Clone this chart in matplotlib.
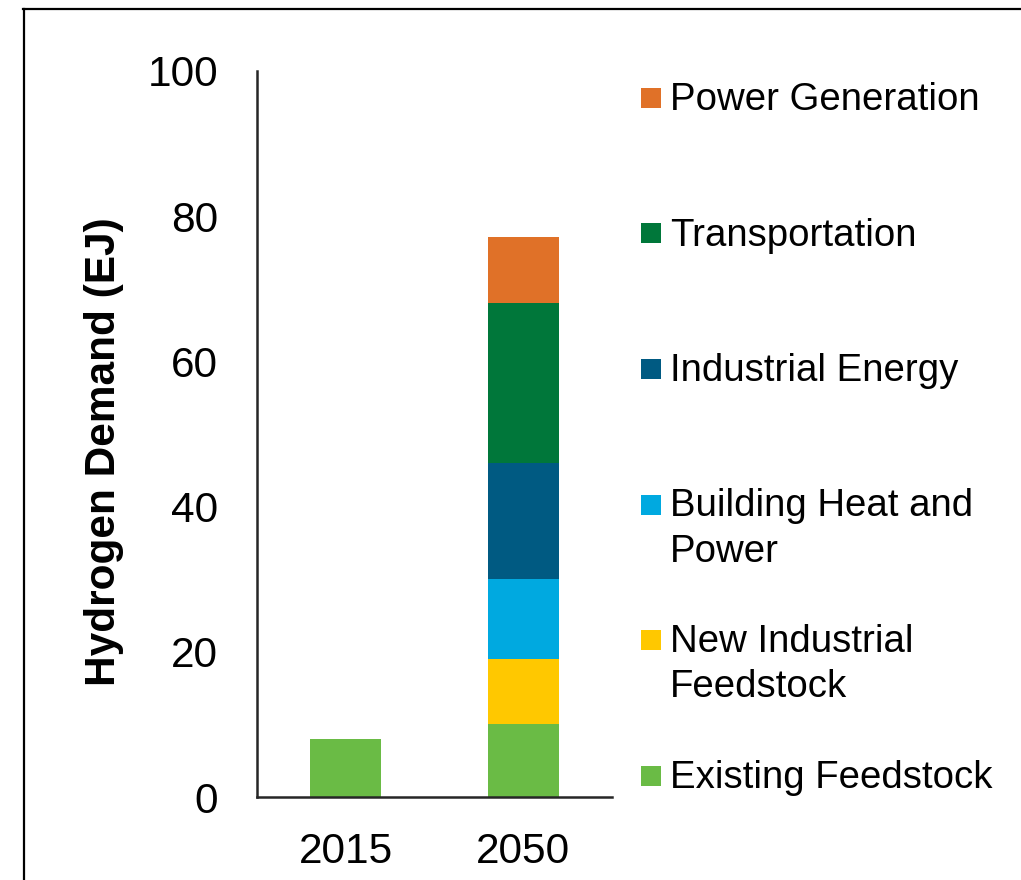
import numpy as np
import matplotlib
matplotlib.use("Agg")
import matplotlib.pyplot as plt
from matplotlib.lines import Line2D
from matplotlib.patches import Rectangle

plt.rcParams["font.family"] = ["Liberation Sans", "DejaVu Sans"]

# Datos (EJ)
years = ["2015", "2050"]
series_names = ["Existing Feedstock", "New Industrial Feedstock",
                "Building Heat and Power", "Industrial Energy",
                "Transportation", "Power Generation"]
legend_labels = ["Existing Feedstock", "New Industrial\nFeedstock",
                 "Building Heat and\nPower", "Industrial Energy",
                 "Transportation", "Power Generation"]
existing_feedstock = [8, 10]
new_industrial_feedstock = [0, 9]
building_heat_power = [0, 11]
industrial_energy = [0, 16]
transportation = [0, 22]
power_generation = [0, 9.2]
colors = ["#6ABB45", "#FFC800", "#00A9E0", "#005A82", "#00773A", "#E07128"]

W, H = 1021, 880
fig = plt.figure(figsize=(W / 100, H / 100), dpi=100)


def fx(px):
    return px / W


def fy(py):
    return 1 - py / H


ax = fig.add_axes([fx(257), fy(797), fx(612) - fx(257), fy(71) - fy(797)])

values = [existing_feedstock, new_industrial_feedstock, building_heat_power,
          industrial_energy, transportation, power_generation]
x = np.arange(len(years))
bottom = np.zeros(len(years))
for vals, col in zip(values, colors):
    ax.bar(x, vals, width=0.4, bottom=bottom, color=col)
    bottom += np.array(vals)

ax.set_xlim(-0.5, 1.5)
ax.set_ylim(0, 100)
ax.set_yticks([0, 20, 40, 60, 80, 100])
ax.set_xticks(x)
ax.set_xticklabels(years)
ax.tick_params(axis="both", length=0, labelsize=30.5, colors="black")
ax.tick_params(axis="y", pad=28)
ax.tick_params(axis="x", pad=25)
for s in ["top", "right"]:
    ax.spines[s].set_visible(False)
for s in ["left", "bottom"]:
    ax.spines[s].set_color("#262626")
    ax.spines[s].set_linewidth(1.8)

fig.text(fx(104), fy(452), "Hydrogen Demand (EJ)", rotation=90,
         fontsize=30.5, fontweight="bold", ha="center", va="center")

# Leyenda dibujada a mano (orden inverso al apilado)
for i, (lab, col) in enumerate(zip(legend_labels[::-1], colors[::-1])):
    base = 110 + 135.5 * i
    fig.add_artist(Rectangle((fx(641), fy(base - 2)), fx(20), 20 / H,
                             transform=fig.transFigure, color=col, lw=0))
    for j, line in enumerate(lab.split("\n")):
        fig.text(fx(670), fy(base + 45 * j), line, fontsize=27.6,
                 ha="left", va="baseline")

# Marco exterior
fig.add_artist(Line2D([fx(24), fx(24)], [fy(9), 0], transform=fig.transFigure,
                      color="black", lw=1.6))
fig.add_artist(Line2D([fx(23), 1], [fy(9.5), fy(9.5)], transform=fig.transFigure,
                      color="black", lw=1.6))

fig.savefig("out.png", dpi=100)
